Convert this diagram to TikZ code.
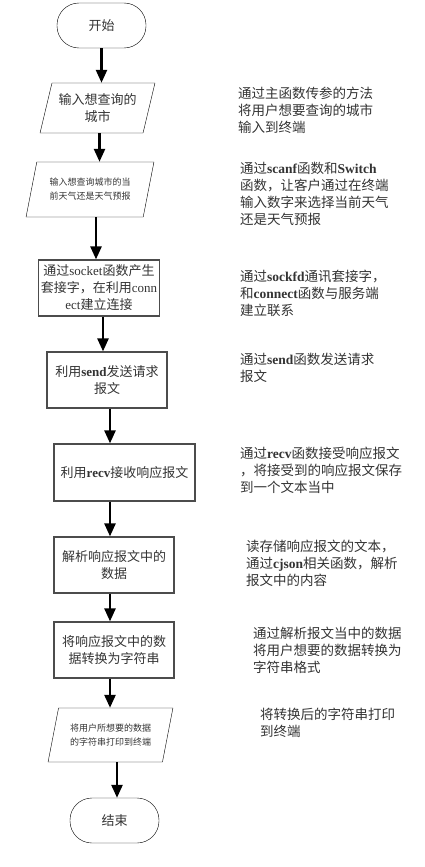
\documentclass[tikz,border=0pt]{standalone}
\usepackage{fontspec}
\setmainfont{Noto Sans CJK SC}
\newfontfamily\latinserif{Liberation Serif}
\newcommand{\en}[1]{{\latinserif\bfseries #1}}
\newcommand{\enr}[1]{{\latinserif #1}}
\usetikzlibrary{arrows.meta, shapes.geometric}

\begin{document}
\begin{tikzpicture}[
      x=1pt, y=-1pt,
      term/.style={draw, rounded corners=22pt, minimum width=89pt, minimum height=45pt, font=\fontsize{13}{17}\selectfont, text=black!80},
      io/.style={draw, trapezium, trapezium stretches, trapezium left angle=72, trapezium right angle=108, align=center, inner sep=2pt, text=black!80},
      proc/.style={draw=black!70, line width=1.2pt, minimum width=120pt, minimum height=56pt, align=center, inner sep=2pt, font=\fontsize{13}{17}\selectfont, text=black!80},
      note/.style={anchor=north west, inner sep=0pt, align=left, font=\fontsize{13.5}{17}\selectfont, text=black!80},
      flow/.style={-{Triangle[length=13pt, width=11pt]}, line width=2.5pt}
    ]
    \useasboundingbox (0,0) rectangle (425,867);
    % left column
    \node[term] (start) at (101.5,25.5) {开始};
    \node[io, minimum width=115pt, minimum height=50pt, font=\fontsize{13}{17}\selectfont] (in1) at (97.5,108) {输入想查询的\\城市};
    \node[io, minimum width=128pt, minimum height=55pt, font=\fontsize{9}{14}\selectfont] (in2) at (90,189.5) {输入想查询城市的当\\前天气还是天气预报};
    \node[proc] (conn) at (99,288) {通过\enr{socket}函数产生\\套接字，在利用\enr{conn}\\\enr{ect}建立连接};
    \node[proc] (send) at (107,380) {利用\en{send}发送请求\\报文};
    \node[proc, minimum width=141pt, minimum height=57pt] (recv) at (124.5,472.5) {利用\en{recv}接收响应报文};
    \node[proc] (parse) at (114,565) {解析响应报文中的\\数据};
    \node[proc] (conv) at (114,650) {将响应报文中的数\\据转换为字符串};
    \node[io, minimum width=125pt, minimum height=54pt, font=\fontsize{9}{14}\selectfont] (out) at (110.5,735) {将用户所想要的数据\\的字符串打印到终端};
    \node[term] (stop) at (114.5,820.5) {结束};
    % arrows
    \draw[flow] (start.south) -- (start.south |- in1.north);
    \draw[flow] ([xshift=2pt]in1.south) -- ([xshift=2pt]in1.south |- in2.north);
    \draw[flow] ([xshift=6pt]in2.south) -- ([xshift=6pt]in2.south |- conn.north);
    \draw[flow] ([xshift=4pt]conn.south) -- ([xshift=4pt]conn.south |- send.north);
    \draw[flow] ([xshift=3pt]send.south) -- ([xshift=3pt]send.south |- recv.north);
    \draw[flow] ([xshift=-4pt]parse.north |- recv.south) -- ([xshift=-4pt]parse.north);
    \draw[flow] ([xshift=-4pt]parse.south) -- ([xshift=-4pt]conv.north);
    \draw[flow] ([xshift=-4pt]conv.south) -- ([xshift=-4pt]conv.south |- out.north);
    \draw[flow] ([xshift=2.5pt]stop.north |- out.south) -- ([xshift=2.5pt]stop.north);
    % notes
    \node[note] (n1) at (238,87) {通过主函数传参的方法\\将用户想要查询的城市\\输入到终端};
    \node[note] (n2) at (240,162) {通过\en{scanf}函数和\en{Switch}\\函数，让客户通过在终端\\输入数字来选择当前天气\\还是天气预报};
    \node[note] (n3) at (240,270) {通过\en{sockfd}通讯套接字，\\和\en{connect}函数与服务端\\建立联系};
    \node[note] (n4) at (240,353) {通过\en{send}函数发送请求\\报文};
    \node[note] (n5) at (240,447) {通过\en{recv}函数接受响应报文\\，将接受到的响应报文保存\\到一个文本当中};
    \node[note] (n6) at (246,540) {读存储响应报文的文本，\\通过\en{cjson}相关函数，解析\\报文中的内容};
    \node[note] (n7) at (253,627) {通过解析报文当中的数据\\将用户想要的数据转换为\\字符串格式};
    \node[note] (n8) at (260,708) {将转换后的字符串打印\\到终端};
\end{tikzpicture}
\end{document}
